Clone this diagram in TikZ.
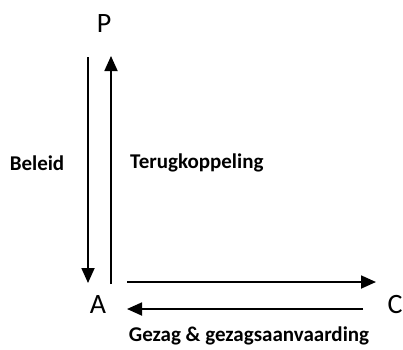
\documentclass[tikz,border=0pt]{standalone}
\usepackage{fontspec}
\setmainfont{Carlito}
\usetikzlibrary{arrows.meta}
\begin{document}
\begin{tikzpicture}[x=1pt,y=-1pt,
  letter/.style={font=\fontsize{28}{32}\selectfont, inner sep=0pt},
  lbl/.style={font=\fontsize{21}{25}\selectfont\bfseries, inner sep=0pt},
  arr/.style={line width=1.8pt, -{Triangle[length=15pt,width=13pt]}}]
\useasboundingbox (0,0) rectangle (403,349);
\node[letter] (P) at (104,24) {P};
\node[letter] (A) at (98,305) {A};
\node[letter] (C) at (395,304) {C};
\node[lbl] (beleid) at (37,163) {Beleid};
\node[lbl, anchor=west] (terug) at (130,163) {Terugkoppeling};
\node[lbl] (gezag) at (249,336) {Gezag \& gezagsaanvaarding};
\coordinate (d1) at (88,57);
\coordinate (d2) at (88,283);
\coordinate (u1) at (111,284);
\coordinate (u2) at (111,56);
\coordinate (r1) at (127,282);
\coordinate (r2) at (376,282);
\coordinate (l1) at (363,309);
\coordinate (l2) at (127,309);
\draw[arr] (d1) -- (d2);
\draw[arr] (u1) -- (u2);
\draw[arr] (r1) -- (r2);
\draw[arr] (l1) -- (l2);
\end{tikzpicture}
\end{document}
